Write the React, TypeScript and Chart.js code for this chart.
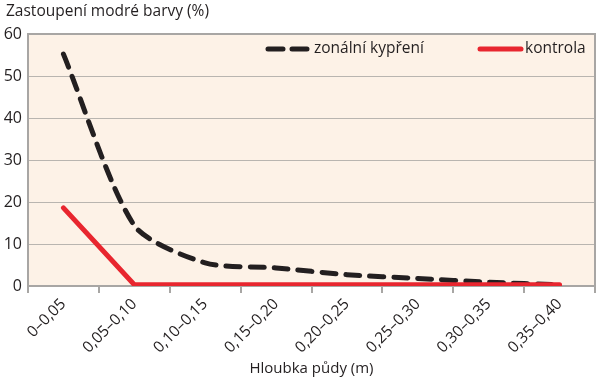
import React, { useEffect, useRef } from "react";
import { Chart, registerables } from "chart.js";

Chart.register(...registerables);

const categories = ["0–0,05", "0,05–0,10", "0,10–0,15", "0,15–0,20", "0,20–0,25", "0,25–0,30", "0,30–0,35", "0,35–0,40"];
const zonalni = [55.2, 14.4, 5.5, 4.3, 2.7, 1.8, 0.9, 0.3];
const kontrola = [18.6, 0.3, 0.3, 0.3, 0.3, 0.3, 0.3, 0.3];
const seriesNames = ["zonální kypření", "kontrola"];
const yTitle = "Zastoupení modré barvy (%)";
const xTitle = "Hloubka půdy (m)";

const FONT = "'Open Sans', sans-serif";
const TEXT = "#231f20";
const BLACK = "#231f20";
const RED = "#e8262f";
const GRID = "#b9b5b0";
const BORDER = "#a8a6a4";
const BG = "#fdf2e7";

const framePlugin = {
  id: "frame",
  beforeDraw(chart: any) {
    const { ctx, chartArea: a } = chart;
    ctx.save();
    ctx.fillStyle = BG;
    ctx.fillRect(a.left, a.top, a.right - a.left, a.bottom - a.top);
    ctx.restore();
  },
  afterDatasetsDraw(chart: any) {
    const { ctx, chartArea: a } = chart;
    ctx.save();
    ctx.strokeStyle = BORDER;
    ctx.lineWidth = 2;
    ctx.beginPath();
    ctx.moveTo(a.left, a.top);
    ctx.lineTo(a.right, a.top);
    ctx.lineTo(a.right, a.bottom);
    ctx.stroke();
    // y title
    ctx.fillStyle = TEXT;
    ctx.font = `15.5px ${FONT}`;
    ctx.textBaseline = "middle";
    ctx.textAlign = "left";
    ctx.fillText(yTitle, 6, 12);
    // legend
    const ly = a.top + 15;
    ctx.lineWidth = 5;
    ctx.lineCap = "round";
    ctx.strokeStyle = BLACK;
    ctx.setLineDash([15, 9]);
    ctx.beginPath();
    ctx.moveTo(a.left + 240, ly);
    ctx.lineTo(a.left + 282, ly);
    ctx.stroke();
    ctx.setLineDash([]);
    ctx.strokeStyle = RED;
    ctx.beginPath();
    ctx.moveTo(a.left + 452, ly);
    ctx.lineTo(a.left + 493, ly);
    ctx.stroke();
    ctx.font = `15.5px ${FONT}`;
    ctx.fillText(seriesNames[0], a.left + 286, ly);
    ctx.fillText(seriesNames[1], a.left + 497, ly);
    ctx.restore();
  },
};

export default function App() {
  const ref = useRef<HTMLCanvasElement>(null);
  useEffect(() => {
    document.body.style.margin = "0";
    const chart = new Chart(ref.current!, {
      type: "line",
      data: {
        labels: categories,
        datasets: [
          {
            label: seriesNames[1],
            data: kontrola,
            borderColor: RED,
            borderWidth: 5,
            borderCapStyle: "round",
            borderJoinStyle: "round",
            pointRadius: 0,
            tension: 0,
          },
          {
            label: seriesNames[0],
            data: zonalni,
            borderColor: BLACK,
            borderWidth: 5,
            borderDash: [14, 10],
            borderCapStyle: "round",
            pointRadius: 0,
            tension: 0.25,
          },
        ],
      },
      options: {
        animation: false,
        responsive: false,
        layout: { padding: { left: 0, right: 5, top: 34, bottom: 0 } },
        plugins: { legend: { display: false }, tooltip: { enabled: false }, title: { display: false } },
        scales: {
          x: {
            offset: true,
            grid: { offset: true, drawOnChartArea: false, drawTicks: true, tickLength: 7, color: BORDER, lineWidth: 2 },
            border: { color: BORDER, width: 2 },
            ticks: { color: TEXT, font: { family: FONT, size: 15.5 }, minRotation: 45, maxRotation: 45, padding: 2 },
            title: { display: true, text: xTitle, color: TEXT, font: { family: FONT, size: 15 }, padding: { top: 0, bottom: 4 } },
            afterFit: (s: any) => { s.height = 96; },
          },
          y: {
            min: 0,
            max: 60,
            ticks: { stepSize: 10, color: TEXT, font: { family: FONT, size: 16 }, padding: 6 },
            grid: {
              drawTicks: false,
              color: (c: any) => (c.tick && (c.tick.value === 0 || c.tick.value === 60) ? "rgba(0,0,0,0)" : GRID),
              lineWidth: 1,
            },
            border: { color: BORDER, width: 2 },
            afterFit: (s: any) => { s.width = 28; },
          },
        },
      },
      plugins: [framePlugin],
    });
    return () => chart.destroy();
  }, []);
  return (
    <div style={{ width: 600, height: 382 }}>
      <canvas ref={ref} width={600} height={382} />
    </div>
  );
}
